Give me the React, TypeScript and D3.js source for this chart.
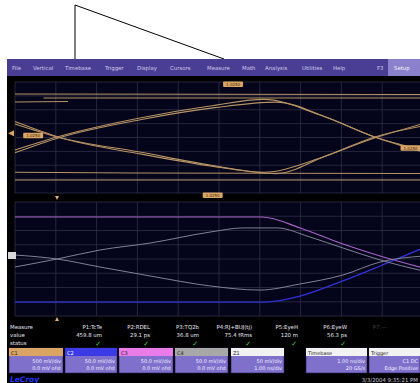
import React from 'react';
import * as d3 from 'd3';

// ---- data (time and amplitude in screen divisions) ----
const menuItems = ["File", "Vertical", "Timebase", "Trigger", "Display", "Cursors", "Measure", "Math", "Analysis", "Utilities", "Help"];
const xDivs = d3.range(0, 11);
const yDivs = d3.range(-4, 5);

const upperHighA: [number, number][] = [[0, 3.14], [10, 3.1]];
const upperHighB: [number, number][] = [[0.7, 2.85], [10, 2.85]];
const upperHighC: [number, number][] = [[0, 2.56], [1.3, 2.6]];
const upperLowA: [number, number][] = [[0, -2.5], [2.9, -2.56], [10, -2.6]];
const upperLowB: [number, number][] = [[0, -3.06], [10, -3.06]];
const upperRise1: [number, number][] = [[0, -0.9], [1.03, 0.04], [3.06, 1.41], [4.78, 2.27], [6.1, 2.75], [7.48, 1.62], [8.82, 0.04], [10, -1.05]];
const upperRise2: [number, number][] = [[0, -1.1], [1.1, 0.0], [3.1, 1.3], [4.9, 2.15], [6.4, 2.55], [7.6, 1.5], [8.85, 0.0], [10, -0.9]];
const upperFall1: [number, number][] = [[0, 0.97], [1.03, 0.04], [3.06, -1.05], [4.78, -1.98], [6.1, -2.5], [7.48, -1.48], [8.82, 0.04], [10, 0.83]];
const upperFall2: [number, number][] = [[0, 1.15], [1.1, 0.0], [3.1, -1.2], [4.9, -2.1], [6.4, -2.6], [7.6, -1.35], [8.85, 0.0], [10, 1.0]];

const lowerPurple: [number, number][] = [[0, 2.95], [6.05, 2.95], [6.99, 2.18], [7.97, 1.12], [8.95, 0.21], [10, -0.63]];
const lowerBlue: [number, number][] = [[0, -3.02], [6.13, -3.02], [6.99, -2.6], [7.97, -1.61], [8.95, -0.49], [10, 0.77]];
const lowerWhite1: [number, number][] = [[0, -0.56], [1.03, 0.0], [2.08, 0.63], [3.31, 1.12], [4.78, 1.89], [5.59, 2.18], [6.42, 2.18], [7.23, 1.54], [8.04, 0.77], [8.95, -0.07], [10, -0.84]];
const lowerWhite2: [number, number][] = [[0, 0.28], [1.03, 0.0], [2.08, -0.56], [3.31, -1.19], [4.78, -1.89], [6.0, -2.18], [6.99, -1.75], [8.04, -1.12], [8.95, -0.21], [10, 0.21]];

const measNames = ["P1:TcTe", "P2:RDEL", "P3:TQ2b", "P4:RJ+BUJ(tj)", "P5:EyeH", "P6:EyeW", "P7:---"];
const measValues = ["459.8 um", "29.1 ps", "36.8 um", "75.4 fRms", "120 m", "56.3 ps", ""];
const measStatus = [true, true, true, true, true, true, false];

const chanHeaders = ["C1", "C2", "C3", "C4", "Z1", "Timebase", "Trigger"];
const chanLine1 = ["500 mV/div", "50.0 mV/div", "50.0 mV/div", "50.0 mV/div", "50 mV/div", "1.00 ns/div", "C1 DC"];
const chanLine2 = ["0.0 mV ofst", "0.0 mV ofst", "0.0 mV ofst", "0.0 mV ofst", "1.00 ns/div", "20 GS/s", "Edge Positive"];
const upperLabels = ["1.0250", "1.0250", "1.0250", "1.0250"];

// ---- layout ----
const W = 420, H = 383;
const menuX = [12, 33, 65, 105, 137, 170, 207, 242, 265, 302, 333];
const chanBoxes = [[9, 63], [65, 117], [119, 173], [175, 228], [231, 284], [306, 367], [369, 420]];
const headColors = ["#d9a464", "#3a3ae6", "#ea7cea", "#a8a8a8", "#f2f2f2", "#f2f2f2", "#f2f2f2"];
const measRight = [102, 150, 199, 252, 298, 347, 387];

export default function App() {
  const x = d3.scaleLinear().domain([0, 10]).range([15, 423]);
  const yU = d3.scaleLinear().domain([4, -4]).range([82, 193]);
  const yL = d3.scaleLinear().domain([4, -4]).range([202, 316]);
  const lineU = d3.line<[number, number]>().x(d => x(d[0])).y(d => yU(d[1])).curve(d3.curveMonotoneX);
  const lineL = d3.line<[number, number]>().x(d => x(d[0])).y(d => yL(d[1])).curve(d3.curveMonotoneX);
  const font = "DejaVu Sans, sans-serif";
  const orange = "#c9a26c";

  const grid = (y: d3.ScaleLinear<number, number>, key: string) => (
    <g key={key}>
      <rect x={15} y={y(4)} width={408} height={y(-4) - y(4)} fill="#04041a" />
      {xDivs.map(d => <line key={'v' + d} x1={x(d)} x2={x(d)} y1={y(4)} y2={y(-4)} stroke="#2e2e48" strokeWidth={0.8} />)}
      {yDivs.map(d => <line key={'h' + d} x1={15} x2={423} y1={y(d)} y2={y(d)} stroke="#2e2e48" strokeWidth={0.8} />)}
    </g>
  );

  return (
    <svg width={W} height={H} style={{ position: 'absolute', left: 0, top: 0 }} fontFamily={font}>
      <rect width={W} height={H} fill="#fff" />
      <line x1={75} y1={5} x2={75} y2={59} stroke="#000" strokeWidth={1} />
      <line x1={75} y1={5} x2={224} y2={59} stroke="#000" strokeWidth={1} />
      <rect x={7} y={59} width={413} height={324} fill="#000" />
      {/* menu bar */}
      <rect x={7} y={59} width={413} height={17} fill="#4a3d94" />
      <rect x={388} y={59} width={32} height={17} fill="#8a80cc" />
      {menuItems.map((m, i) => <text key={m} x={menuX[i]} y={70} fontSize={5.4} fill="#cfcae8">{m}</text>)}
      <text x={377} y={70} fontSize={5.4} fill="#cfcae8">F3</text>
      <text x={394} y={70} fontSize={5.4} fill="#f4f2ff">Setup</text>

      {grid(yU, 'u')}
      {grid(yL, 'l')}

      {/* upper traces */}
      <g fill="none" stroke={orange} strokeWidth={1.1} opacity={0.9}>
        {[upperHighA, upperHighB, upperHighC, upperLowA, upperLowB, upperRise1, upperRise2, upperFall1, upperFall2].map((d, i) =>
          <path key={i} d={lineU(d) || ''} />)}
      </g>
      {/* upper labels */}
      {[[5.1, 4.0], [0.2, 0.3], [9.45, -0.6], [4.6, -4.0]].map((p, i) => (
        <g key={i}>
          <rect x={x(p[0])} y={yU(p[1]) - 0.5} width={20} height={5.5} rx={1} fill="#d9a464" />
          <text x={x(p[0]) + 10} y={yU(p[1]) + 3.8} fontSize={4} textAnchor="middle" fill="#3a2a10">{upperLabels[i]}</text>
        </g>
      ))}
      <path d={`M8,${yU(0.3)} L14,${yU(0.3) - 3} L14,${yU(0.3) + 3} Z`} fill="#d9a464" />

      {/* lower traces */}
      <g fill="none">
        <path d={lineL(lowerPurple) || ''} stroke="#a862c8" strokeWidth={1.1} />
        <path d={lineL(lowerBlue) || ''} stroke="#3232d8" strokeWidth={1.3} />
        <path d={lineL(lowerWhite1) || ''} stroke="#8c8ca4" strokeWidth={0.9} />
        <path d={lineL(lowerWhite2) || ''} stroke="#8c8ca4" strokeWidth={0.9} />
      </g>
      <rect x={8} y={yL(0.28) - 3} width={8} height={7} fill="#d8d8d8" />

      {/* trigger markers */}
      <path d={`M${x(1.03) - 2},196 L${x(1.03) + 2},196 L${x(1.03)},200 Z`} fill="#e0b070" />
      <path d={`M${x(1.03) - 2},321 L${x(1.03) + 2},321 L${x(1.03)},317 Z`} fill="#e0b070" />

      {/* measurements */}
      <text x={10} y={329} fontSize={5.4} fill="#e8e8f4">Measure</text>
      <text x={10} y={337} fontSize={5.4} fill="#e8e8f4">value</text>
      <text x={10} y={345} fontSize={5.4} fill="#e8e8f4">status</text>
      {measNames.map((n, i) => (
        <g key={n}>
          <text x={measRight[i]} y={329} fontSize={5.4} textAnchor="end" fill={measStatus[i] ? "#e8e8f4" : "#444"}>{n}</text>
          <text x={measRight[i]} y={337} fontSize={5.4} textAnchor="end" fill="#e8e8f4">{measValues[i]}</text>
          {measStatus[i] && <text x={measRight[i] - 1} y={346} fontSize={7} textAnchor="end" fill="#3ad040">✓</text>}
        </g>
      ))}

      {/* channel boxes */}
      {chanBoxes.map((b, i) => (
        <g key={i}>
          <rect x={b[0]} y={348} width={b[1] - b[0]} height={25} fill="#7f70cc" stroke="#2a2050" strokeWidth={0.6} />
          <rect x={b[0]} y={348} width={b[1] - b[0]} height={8} fill={headColors[i]} />
          <text x={b[0] + 2} y={354.5} fontSize={5} fill={i === 1 ? "#fff" : "#222"}>{chanHeaders[i]}</text>
          <text x={b[1] - 2} y={363} fontSize={5} textAnchor="end" fill="#f4f2ff">{chanLine1[i]}</text>
          <text x={b[1] - 2} y={370} fontSize={5} textAnchor="end" fill="#f4f2ff">{chanLine2[i]}</text>
        </g>
      ))}

      <text x={10} y={382} fontSize={7.5} fontWeight="bold" fontStyle="italic" fill="#2038ff">LeCroy</text>
      <text x={418} y={382} fontSize={5.4} textAnchor="end" fill="#c8c8d8">3/3/2004 9:35:21 PM</text>
    </svg>
  );
}
